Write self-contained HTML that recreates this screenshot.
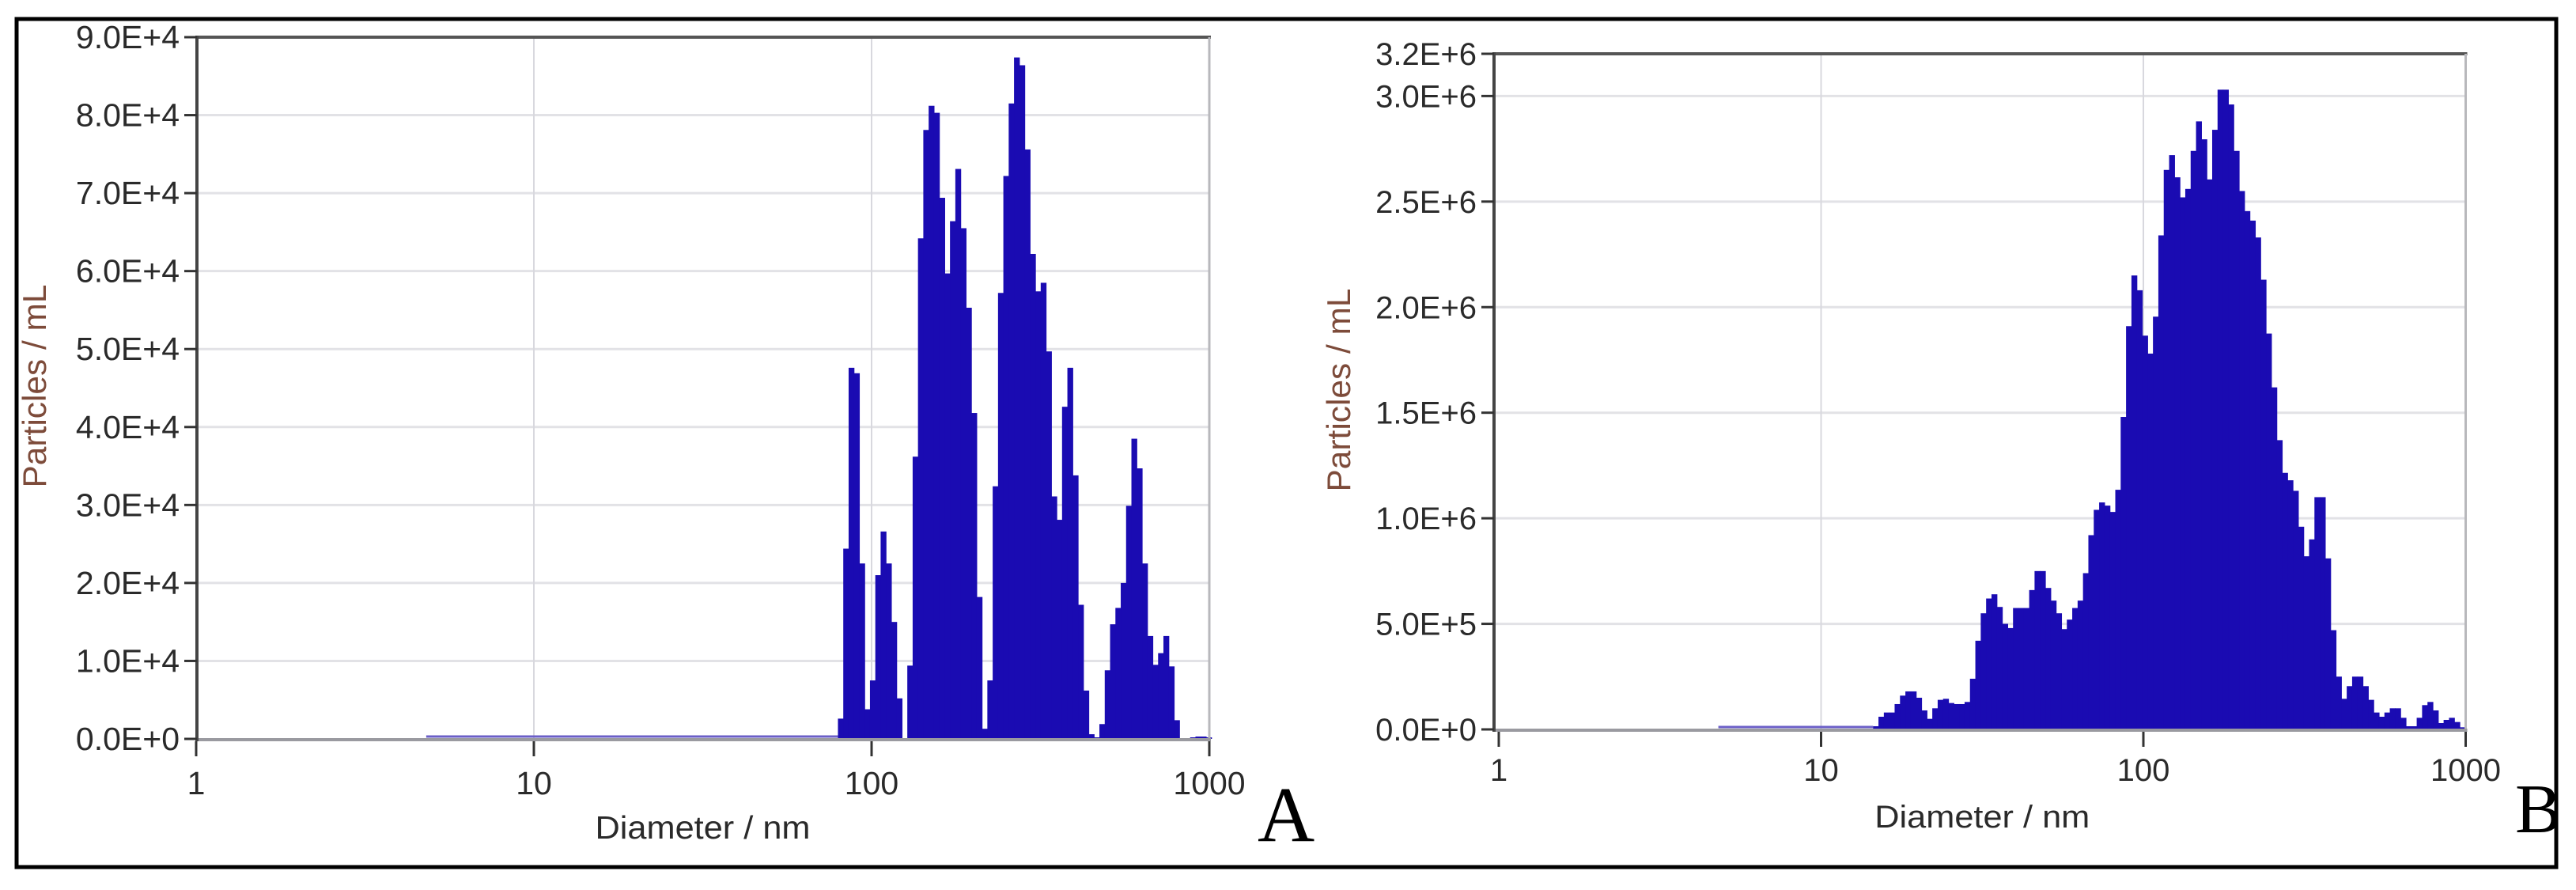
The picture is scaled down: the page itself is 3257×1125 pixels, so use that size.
<!DOCTYPE html>
<html><head><meta charset="utf-8"><style>
html,body{margin:0;padding:0;background:#fff;}
svg{display:block;}
text{font-family:"Liberation Sans",sans-serif;}
</style></head>
<body>
<svg id="fig" xmlns="http://www.w3.org/2000/svg" width="3257" height="1125" viewBox="0 0 3257 1125">
<rect x="0" y="0" width="3257" height="1125" fill="#fff"/>
<rect x="21" y="24" width="3211" height="1072" fill="none" stroke="#000" stroke-width="5"/>
<g id="chartA"></g>
<g id="chartB"></g>
<text x="1590" y="1063" style="font-family:'Liberation Serif',serif" font-size="100">A</text>
<text x="3180" y="1052" style="font-family:'Liberation Serif',serif" font-size="88">B</text>
</svg>
<script>
// Panel A data: particle concentration per bin (units of 1e4 particles/mL)
const binStartA = 79.5;      // nm, left edge of first bin
const binLogStepA = 0.0158;  // log10 width per bin
const valuesA = [0.26,2.44,4.76,4.69,2.25,0.38,0.75,2.1,2.66,2.25,1.5,0.52,0,0.94,3.62,6.42,7.81,8.12,8.03,6.94,5.97,6.64,7.31,6.55,5.53,4.18,1.82,0.13,0.75,3.24,5.72,7.22,8.15,8.74,8.64,7.56,6.22,5.74,5.85,4.97,3.11,2.81,4.26,4.76,3.38,1.72,0.62,0.06,0.02,0.19,0.88,1.47,1.68,2.0,2.99,3.85,3.47,2.25,1.32,0.95,1.1,1.32,0.93,0.24,0,0,0.02,0.03,0.03,0.02];
const yTicksA = [0,1,2,3,4,5,6,7,8,9];
const yTickLabelsA = ["0.0E+0","1.0E+4","2.0E+4","3.0E+4","4.0E+4","5.0E+4","6.0E+4","7.0E+4","8.0E+4","9.0E+4"];
// Panel B data (units of 1e6 particles/mL)
const binStartB = 14.5;
const binLogStepB = 0.0167;
const valuesB = [0.015,0.06,0.08,0.08,0.12,0.16,0.18,0.18,0.15,0.09,0.05,0.10,0.14,0.145,0.125,0.12,0.12,0.13,0.24,0.42,0.55,0.62,0.64,0.58,0.50,0.48,0.575,0.575,0.575,0.66,0.75,0.75,0.67,0.61,0.55,0.475,0.52,0.575,0.61,0.74,0.92,1.04,1.075,1.06,1.03,1.135,1.48,1.91,2.15,2.08,1.865,1.78,1.955,2.34,2.65,2.72,2.615,2.52,2.56,2.74,2.88,2.795,2.605,2.84,3.03,3.03,2.96,2.74,2.55,2.455,2.41,2.33,2.13,1.875,1.62,1.37,1.215,1.18,1.13,0.96,0.82,0.90,1.10,1.10,0.81,0.47,0.25,0.145,0.205,0.25,0.25,0.205,0.14,0.08,0.06,0.08,0.10,0.10,0.055,0.015,0.015,0.055,0.115,0.13,0.09,0.03,0.045,0.055,0.035,0.01];
const yTicksB = [0,0.5,1.0,1.5,2.0,2.5,3.0,3.2];
const yTickLabelsB = ["0.0E+0","5.0E+5","1.0E+6","1.5E+6","2.0E+6","2.5E+6","3.0E+6","3.2E+6"];
const xTicks = [1,10,100,1000];
const xTickLabels = ["1","10","100","1000"];

const NS = "http://www.w3.org/2000/svg";
function mk(parent, tag, attrs, txt){
  const e = document.createElementNS(NS, tag);
  for (const k in attrs) e.setAttribute(k, attrs[k]);
  if (txt !== undefined) e.textContent = txt;
  parent.appendChild(e);
  return e;
}

function drawChart(g, cfg){
  const xs = d => cfg.x1 + (Math.log10(d)) * cfg.dec;
  const ys = v => cfg.y0 - (v / cfg.yMax) * (cfg.y0 - cfg.yTop);
  const xr = cfg.x1 + 3 * cfg.dec;
  cfg.yTicks.forEach((t,i) => {
    if (t === 0 || t === cfg.yMax) return;
    const gl = mk(g,'line',{x1:cfg.axisX,x2:xr,y1:ys(t),y2:ys(t),stroke:'#e2e2e6','stroke-width':3});
    
    
  });
  [10,100].forEach(d => {
    const vl = mk(g,'line',{x1:xs(d),x2:xs(d),y1:cfg.yTop,y2:cfg.y0,stroke:'#d8d8de','stroke-width':2});
    
    
  });
  const bl = mk(g,'line',{x1:xs(4.8),x2:xs(cfg.start),y1:cfg.y0-3,y2:cfg.y0-3,stroke:'#6b5fc7','stroke-width':3});
  
  
  cfg.values.forEach((v,i) => {
    const l = Math.log10(cfg.start) + i * cfg.step;
    const xa = xs(Math.pow(10,l)), xb = xs(Math.pow(10,l+cfg.step));
    const y = ys(v);
    const r = mk(g,'rect',{x:xa,y:y,width:xb-xa+0.6,height:Math.max(0,cfg.y0-y),fill:'#1a0bb2'});
    
    
  });
  const top = mk(g,'line',{x1:cfg.axisX,x2:xr+2,y1:cfg.yTop,y2:cfg.yTop,stroke:'#555','stroke-width':4});
  
  
  const rgt = mk(g,'line',{x1:xr,x2:xr,y1:cfg.yTop,y2:cfg.y0,stroke:'#b8b8bc','stroke-width':3});
  
  
  const xa = mk(g,'line',{x1:cfg.axisX,x2:xr+2,y1:cfg.y0+1,y2:cfg.y0+1,stroke:'#9a9aa0','stroke-width':4});
  
  
  const ya = mk(g,'line',{x1:cfg.axisX,x2:cfg.axisX,y1:cfg.yTop-2,y2:cfg.y0+3,stroke:'#444','stroke-width':4});
  
  
  cfg.yTicks.forEach((t,i) => {
    const tk = mk(g,'line',{x1:cfg.axisX-16,x2:cfg.axisX,y1:ys(t),y2:ys(t),stroke:'#333','stroke-width':3});
    
    
    const tl = mk(g,'text',{x:cfg.axisX-22,y:ys(t)+14,'text-anchor':'end','font-size':cfg.fs,fill:'#2a2a2a'},cfg.yLabels[i]);
    
    
  });
  xTicks.forEach((d,i) => {
    const tk = mk(g,'line',{x1:xs(d),x2:xs(d),y1:cfg.y0+3,y2:cfg.y0+22,stroke:'#333','stroke-width':3});
    
    
    const tl = mk(g,'text',{x:xs(d),y:cfg.xlY,'text-anchor':'middle','font-size':cfg.fs,fill:'#2a2a2a'},xTickLabels[i]);
    
    
  });
  const xt = mk(g,'text',{x:(cfg.x1+xr)/2,y:cfg.xtY,'text-anchor':'middle','font-size':cfg.fs,fill:'#2a2a2a',textLength:272,lengthAdjust:'spacingAndGlyphs'},'Diameter / nm');
  
  
  const yt = mk(g,'text',{x:0,y:0,'text-anchor':'middle','font-size':42,fill:'#7d4b3a',textLength:257,lengthAdjust:'spacingAndGlyphs',transform:'translate('+cfg.ytX+','+cfg.ytY+') rotate(-90)'},'Particles / mL');
  
  
}

drawChart(document.getElementById('chartA'), {
  x1:248, dec:427, y0:934, yTop:47, yMax:9, axisX:249,
  values:valuesA, start:binStartA, step:binLogStepA,
  yTicks:yTicksA, yLabels:yTickLabelsA, fs:41,
  xlY:1004, xtY:1060, ytX:58, ytY:488
});
drawChart(document.getElementById('chartB'), {
  x1:1895, dec:407.5, y0:922, yTop:68, yMax:3.2, axisX:1889,
  values:valuesB, start:binStartB, step:binLogStepB,
  yTicks:yTicksB, yLabels:yTickLabelsB, fs:40,
  xlY:987, xtY:1046, ytX:1707, ytY:493
});
</script>
</body></html>
